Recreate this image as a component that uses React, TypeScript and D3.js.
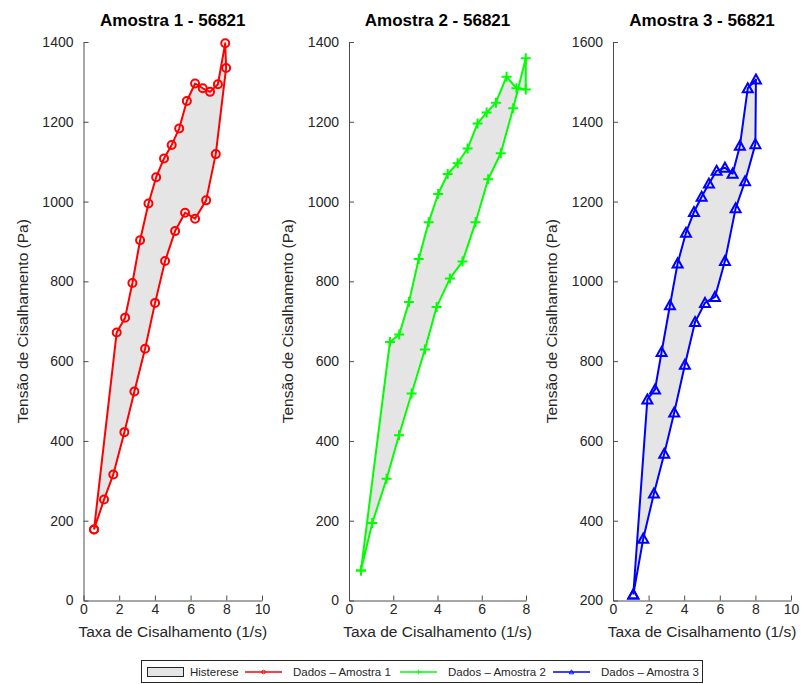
import { useEffect, useRef } from 'react';
import * as d3 from 'd3';

const titulos = ['Amostra 1 - 56821', 'Amostra 2 - 56821', 'Amostra 3 - 56821'];
const rotulosLegenda = ['Histerese', 'Dados – Amostra 1', 'Dados – Amostra 2', 'Dados – Amostra 3'];
const rotuloX = 'Taxa de Cisalhamento (1/s)';
const rotuloY = 'Tensão de Cisalhamento (Pa)';
const cores = ['#ff0000', '#00ff00', '#0000ff'];
const marcadores = ['circle', 'plus', 'triangle'];

// Amostra 1 - ramo inferior (subida) seguido do ramo superior (descida)
const taxa1 = [0.59, 1.15, 1.67, 2.29, 2.85, 3.45, 4.01, 4.57, 5.13, 5.69, 6.25, 6.87, 7.41, 7.99, 7.94,
  7.53, 7.09, 6.68, 6.25, 5.79, 5.36, 4.94, 4.51, 4.07, 3.64, 3.17, 2.74, 2.33, 1.86, 0.59];
const tensao1 = [178, 253, 316, 422, 524, 631, 746, 851, 926, 972, 957, 1003, 1119, 1335, 1397,
  1294, 1275, 1284, 1296, 1252, 1183, 1142, 1108, 1061, 995, 903, 796, 709, 672, 178];

// Amostra 2
const taxa2 = [0.54, 1.05, 1.70, 2.26, 2.83, 3.43, 3.96, 4.56, 5.13, 5.72, 6.29, 6.86, 7.42, 7.99,
  7.99, 7.57, 7.12, 6.64, 6.22, 5.81, 5.36, 4.91, 4.46, 4.03, 3.60, 3.15, 2.71, 2.27, 1.85, 0.54];
const tensao2 = [75, 194, 305, 414, 519, 629, 736, 807, 850, 948, 1056, 1121, 1234, 1359,
  1281, 1284, 1313, 1248, 1223, 1196, 1133, 1096, 1069, 1019, 948, 856, 748, 667, 648, 75];

// Amostra 3
const taxa3 = [1.14, 1.70, 2.30, 2.88, 3.44, 4.04, 4.61, 5.17, 5.73, 6.29, 6.89, 7.42, 8.0, 8.03,
  7.57, 7.13, 6.72, 6.29, 5.82, 5.39, 4.98, 4.55, 4.10, 3.63, 3.20, 2.73, 2.36, 1.93, 1.14];
const tensao3 = [215, 355, 468, 568, 671, 791, 898, 946, 961, 1051, 1183, 1251, 1344, 1506,
  1484, 1340, 1270, 1285, 1277, 1245, 1212, 1174, 1122, 1045, 940, 823, 729, 704, 215];

const ticksX = [[0, 2, 4, 6, 8, 10], [0, 2, 4, 6, 8], [0, 2, 4, 6, 8, 10]];
const ticksY = [
  [0, 200, 400, 600, 800, 1000, 1200, 1400],
  [0, 200, 400, 600, 800, 1000, 1200, 1400],
  [200, 400, 600, 800, 1000, 1200, 1400, 1600],
];

const taxas = [taxa1, taxa2, taxa3];
const tensoes = [tensao1, tensao2, tensao3];

const FONTE = "'Liberation Sans', Arial, Helvetica, sans-serif";

const desenhaMarcador = (g, tipo, cx, cy, cor, s = 1) => {
  if (tipo === 'circle') {
    g.append('circle').attr('cx', cx).attr('cy', cy).attr('r', 4 * s)
      .attr('fill', 'none').attr('stroke', cor).attr('stroke-width', 2 * s);
  } else if (tipo === 'plus') {
    const r = 5 * s;
    g.append('path')
      .attr('d', `M${cx - r},${cy}H${cx + r}M${cx},${cy - r}V${cy + r}`)
      .attr('fill', 'none').attr('stroke', cor).attr('stroke-width', 2 * s);
  } else {
    const r = 5 * s;
    g.append('path')
      .attr('d', `M${cx},${cy - r}L${cx + r},${cy + r * 0.8}L${cx - r},${cy + r * 0.8}Z`)
      .attr('fill', 'none').attr('stroke', cor).attr('stroke-width', 2 * s)
      .attr('stroke-linejoin', 'miter');
  }
};

const App = () => {
  const svgRef = useRef(null);

  useEffect(() => {
    const svg = d3.select(svgRef.current);
    svg.selectAll('*').remove();

    const paineis = [
      { x0: 83.5, x1: 262, dx: [0, 10], dy: [0, 1400] },
      { x0: 349, x1: 526, dx: [0, 8], dy: [0, 1400] },
      { x0: 613, x1: 791, dx: [0, 10], dy: [200, 1600] },
    ];
    const top = 42;
    const bottom = 600.5;

    paineis.forEach((p, i) => {
      const x = d3.scaleLinear().domain(p.dx).range([p.x0, p.x1]);
      const y = d3.scaleLinear().domain(p.dy).range([bottom, top]);
      const g = svg.append('g');

      const pontos = taxas[i].map((t, k) => [x(t), y(tensoes[i][k])]);

      // Histerese (área do laço)
      g.append('path')
        .attr('d', d3.line()(pontos) + 'Z')
        .attr('fill', '#e5e5e5')
        .attr('stroke', 'none');

      // Eixos
      const eixoX = g.append('g')
        .attr('transform', `translate(0,${bottom})`)
        .call(d3.axisBottom(x).tickValues(ticksX[i]).tickFormat(d3.format('d'))
          .tickSizeInner(-5).tickSizeOuter(0).tickPadding(4));
      const eixoY = g.append('g')
        .attr('transform', `translate(${p.x0},0)`)
        .call(d3.axisLeft(y).tickValues(ticksY[i]).tickFormat(d3.format('d'))
          .tickSizeInner(-5).tickSizeOuter(0).tickPadding(10));
      [eixoX, eixoY].forEach(e => {
        e.select('.domain').attr('stroke', '#4d4d4d');
        e.selectAll('line').attr('stroke', '#4d4d4d');
        e.selectAll('text')
          .attr('fill', '#262626')
          .style('font-family', FONTE)
          .style('font-size', '14px');
      });

      // Linha dos dados
      g.append('path')
        .datum(pontos)
        .attr('d', d3.line())
        .attr('fill', 'none')
        .attr('stroke', cores[i])
        .attr('stroke-width', 2)
        .attr('stroke-linejoin', 'round');

      pontos.forEach(([px, py]) => desenhaMarcador(g, marcadores[i], px, py, cores[i]));

      // Título
      g.append('text')
        .attr('x', (p.x0 + p.x1) / 2)
        .attr('y', 26)
        .attr('text-anchor', 'middle')
        .style('font-family', FONTE)
        .style('font-size', '17px')
        .style('font-weight', 'bold')
        .attr('fill', '#000')
        .text(titulos[i]);

      g.append('text')
        .attr('x', (p.x0 + p.x1) / 2)
        .attr('y', 637)
        .attr('text-anchor', 'middle')
        .style('font-family', FONTE)
        .style('font-size', '15.5px')
        .attr('fill', '#262626')
        .text(rotuloX);

      g.append('text')
        .attr('transform', `translate(${p.x0 - 56},${(top + bottom) / 2}) rotate(-90)`)
        .attr('text-anchor', 'middle')
        .style('font-family', FONTE)
        .style('font-size', '15.5px')
        .attr('fill', '#262626')
        .text(rotuloY);
    });

    // Legenda
    const leg = svg.append('g');
    leg.append('rect')
      .attr('x', 141.5).attr('y', 660.5).attr('width', 561).attr('height', 22)
      .attr('fill', '#fff').attr('stroke', '#262626').attr('stroke-width', 1);
    const ly = 672;
    leg.append('rect')
      .attr('x', 147.5).attr('y', 667.5).attr('width', 36).attr('height', 9)
      .attr('fill', '#e5e5e5').attr('stroke', '#262626').attr('stroke-width', 1);
    leg.append('text')
      .attr('x', 190).attr('y', ly + 4)
      .style('font-family', FONTE).style('font-size', '11.5px').attr('fill', '#262626')
      .text(rotulosLegenda[0]);
    const xsLinha = [245, 400, 553];
    xsLinha.forEach((lx, i) => {
      leg.append('line')
        .attr('x1', lx).attr('x2', lx + 37).attr('y1', ly).attr('y2', ly)
        .attr('stroke', cores[i]).attr('stroke-width', 1.5);
      desenhaMarcador(leg, marcadores[i], lx + 18.5, ly, cores[i], 0.45);
      leg.append('text')
        .attr('x', lx + 48).attr('y', ly + 4)
        .style('font-family', FONTE).style('font-size', '11.5px').attr('fill', '#262626')
        .text(rotulosLegenda[i + 1]);
    });
  }, []);

  return (
    <svg
      ref={svgRef}
      width={808}
      height={684}
      style={{ position: 'absolute', left: 0, top: 0, background: '#fff' }}
    />
  );
};

export default App;
